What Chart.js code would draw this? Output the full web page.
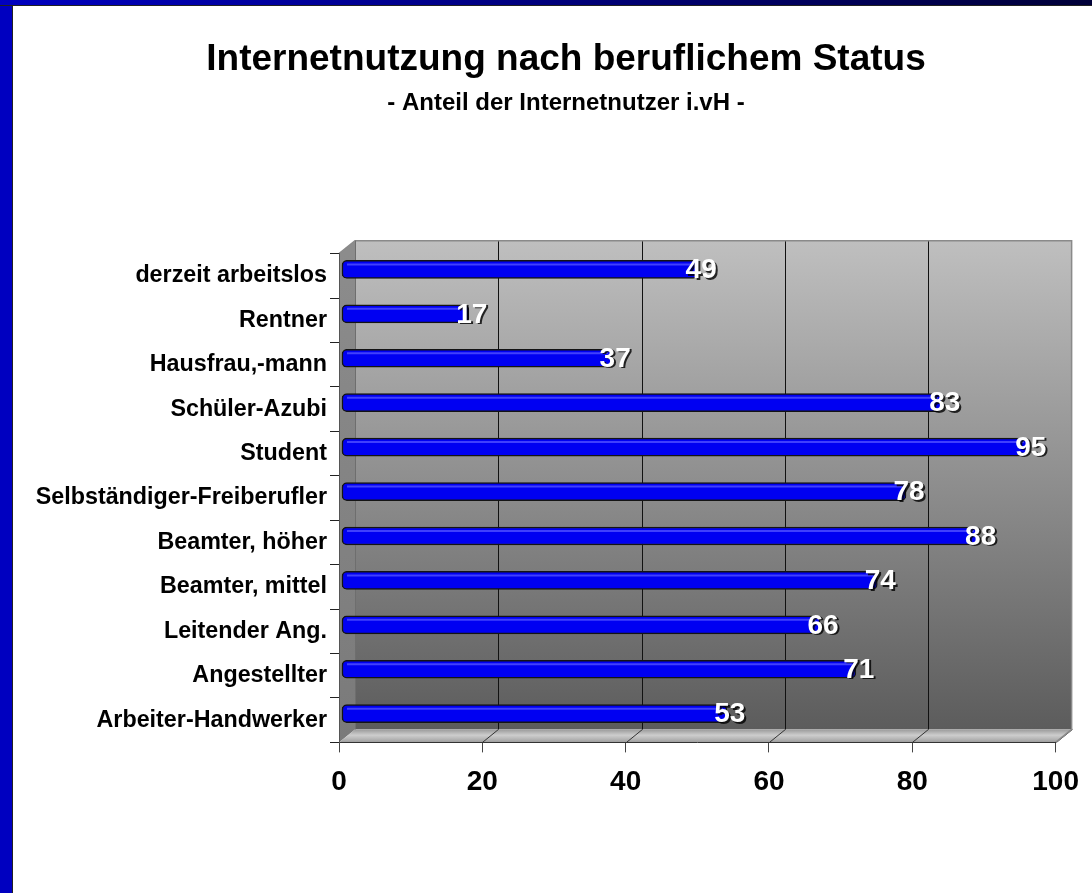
<!DOCTYPE html>
<html>
<head>
<meta charset="utf-8">
<script src="https://cdn.jsdelivr.net/npm/chart.js@4.4.1/dist/chart.umd.min.js"></script>
<style>
    html, body { margin: 0; padding: 0; background: #fff; }
    #wrap { position: relative; width: 1092px; height: 893px; overflow: hidden; }
    #frameLeft { position: absolute; left: 0; top: 0; width: 12px; height: 893px; background: #0000c0; border-right: 1px solid #222; }
    #frameTop { position: absolute; left: 0; top: 0; width: 1092px; height: 5px; background: linear-gradient(to right, #0000c0, #000038); border-bottom: 1px solid #222; }
    canvas { position: absolute; left: 0; top: 0; }
</style>
</head>
<body>
<div id="wrap">
    <canvas id="statusChart" width="1092" height="893"></canvas>
    <div id="frameLeft"></div>
    <div id="frameTop"></div>
</div>

<script>

/* =========================================
   DATA
========================================= */

const categories = [
    "derzeit arbeitslos",
    "Rentner",
    "Hausfrau,-mann",
    "Schüler-Azubi",
    "Student",
    "Selbständiger-Freiberufler",
    "Beamter, höher",
    "Beamter, mittel",
    "Leitender Ang.",
    "Angestellter",
    "Arbeiter-Handwerker"
];

const shares = [49, 17, 37, 83, 95, 78, 88, 74, 66, 71, 53];

const xTicks = [0, 20, 40, 60, 80, 100];

const FONT = "'Liberation Sans', Arial, sans-serif";

// 3D depth of the box (px)
const DX = 16;
const DY = 13;

// horizontal shift of title / subtitle centre
const TITLE_SHIFT = 26.5;


/* =========================================
   3D WALLS (drawn behind everything)
========================================= */

const wallsPlugin = {

    id: "walls",

    afterLayout(chart) {
        // move title + subtitle boxes so they centre over the plot like the original
        chart.boxes.forEach(box => {
            if (box.options && typeof box.options.text === "string") {
                box.left += TITLE_SHIFT;
                box.right += TITLE_SHIFT;
            }
        });
    },

    beforeDraw(chart) {

        const ctx = chart.ctx;
        const { left: L, right: R, top: T, bottom: B } = chart.chartArea;
        const xScale = chart.scales.x;

        ctx.save();

        // back wall
        let g = ctx.createLinearGradient(0, T - DY, 0, B - DY);
        g.addColorStop(0, "#bfbfbf");
        g.addColorStop(1, "#5c5c5c");
        ctx.fillStyle = g;
        ctx.fillRect(L + DX, T - DY, R - L, B - T);

        // left wall
        g = ctx.createLinearGradient(0, T, 0, B);
        g.addColorStop(0, "#8c8c8c");
        g.addColorStop(1, "#7a7a7a");
        ctx.fillStyle = g;
        ctx.beginPath();
        ctx.moveTo(L, T);
        ctx.lineTo(L + DX, T - DY);
        ctx.lineTo(L + DX, B - DY);
        ctx.lineTo(L, B);
        ctx.closePath();
        ctx.fill();

        // floor
        g = ctx.createLinearGradient(0, B - DY, 0, B);
        g.addColorStop(0, "#9a9a9a");
        g.addColorStop(0.45, "#cdcdcd");
        g.addColorStop(0.75, "#b4b4b4");
        g.addColorStop(1, "#9c9c9c");
        ctx.fillStyle = g;
        ctx.beginPath();
        ctx.moveTo(L, B);
        ctx.lineTo(L + DX, B - DY);
        ctx.lineTo(R + DX, B - DY);
        ctx.lineTo(R, B);
        ctx.closePath();
        ctx.fill();

        // grid lines on back wall + floor
        ctx.lineWidth = 1;
        xScale.ticks.forEach(t => {
            const px = Math.round(xScale.getPixelForValue(t.value)) + 0.5;
            if (t.value > xScale.min && t.value < xScale.max) {
                ctx.strokeStyle = "#111";
                ctx.beginPath();
                ctx.moveTo(px + DX, T - DY);
                ctx.lineTo(px + DX, B - DY);
                ctx.stroke();
            }
            if (t.value > xScale.min) {
                ctx.strokeStyle = "#333";
                ctx.beginPath();
                ctx.moveTo(px, B);
                ctx.lineTo(px + DX, B - DY);
                ctx.stroke();
            }
        });

        // edges
        ctx.strokeStyle = "#8a8a8a";
        ctx.lineWidth = 1.5;
        ctx.beginPath();
        ctx.moveTo(L, T);
        ctx.lineTo(L + DX, T - DY);
        ctx.lineTo(R + DX, T - DY);
        ctx.lineTo(R + DX, B - DY);
        ctx.lineTo(R, B);
        ctx.stroke();

        ctx.strokeStyle = "#6e6e6e";
        ctx.lineWidth = 1;
        ctx.beginPath();
        ctx.moveTo(L + DX + 0.5, T - DY);
        ctx.lineTo(L + DX + 0.5, B - DY);
        ctx.stroke();

        ctx.restore();
    },

    beforeDatasetsDraw(chart) {
        chart.ctx.save();
        chart.ctx.translate(DX / 2, -DY / 2);
    },

    afterDatasetsDraw(chart) {

        const ctx = chart.ctx;
        const meta = chart.getDatasetMeta(0);

        // highlight stripe on the bars (still translated)
        meta.data.forEach(el => {
            const p = el.getProps(["x", "y", "base", "height"], true);
            ctx.strokeStyle = "rgba(80,80,255,0.8)";
            ctx.lineWidth = 2;
            ctx.beginPath();
            ctx.moveTo(p.base + 5, p.y - p.height / 2 + 4);
            ctx.lineTo(p.x - 4, p.y - p.height / 2 + 4);
            ctx.stroke();
        });

        ctx.restore();

        // value labels
        ctx.save();
        ctx.font = "bold 28px " + FONT;
        ctx.textAlign = "center";
        ctx.textBaseline = "middle";

        meta.data.forEach((el, i) => {
            const p = el.getProps(["x", "y"], true);
            const tx = p.x + DX / 2 + 3;
            const ty = p.y - DY / 2 + 1;
            const text = String(shares[i]);
            ctx.fillStyle = "rgba(0,0,0,0.8)";
            ctx.fillText(text, tx + 2, ty + 1.5);
            ctx.fillStyle = "#ffffff";
            ctx.fillText(text, tx, ty);
        });

        ctx.restore();
    }

};


/* =========================================
   CHART
========================================= */

const ctx = document.getElementById("statusChart").getContext("2d");

const statusChart = new Chart(ctx, {

    type: "bar",

    data: {
        labels: categories,
        datasets: [
            {
                label: "Anteil der Internetnutzer",
                data: shares,
                backgroundColor: "#0000f2",
                borderColor: "#141414",
                borderWidth: 1.5,
                borderSkipped: false,
                borderRadius: 5,
                barThickness: 18,
                base: -0.7,
                clip: false
            }
        ]
    },

    options: {

        indexAxis: "y",
        responsive: false,
        animation: false,

        layout: {
            padding: {
                left: 20,
                right: 33,
                top: 0,
                bottom: 81
            }
        },

        plugins: {

            legend: { display: false },
            tooltip: { enabled: false },

            title: {
                display: true,
                text: "Internetnutzung nach beruflichem Status",
                color: "#000",
                font: { family: FONT, size: 37, weight: "bold" },
                padding: { top: 37.5, bottom: 0 }
            },

            subtitle: {
                display: true,
                text: "- Anteil der Internetnutzer i.vH -",
                color: "#000",
                font: { family: FONT, size: 24, weight: "bold" },
                padding: { top: 7, bottom: 136 }
            }

        },

        scales: {

            x: {
                min: 0,
                max: 100,
                afterBuildTicks: scale => {
                    scale.ticks = xTicks.map(v => ({ value: v }));
                },
                grid: {
                    drawOnChartArea: false,
                    drawTicks: true,
                    tickLength: 10,
                    color: "#444"
                },
                border: { display: true, color: "#333", width: 1 },
                ticks: {
                    color: "#000",
                    padding: 13,
                    font: { family: FONT, size: 28, weight: "bold" }
                }
            },

            y: {
                afterFit: scale => {
                    scale.width = 319;
                },
                grid: {
                    drawOnChartArea: false,
                    drawTicks: true,
                    tickLength: 9,
                    color: "#222"
                },
                border: { display: true, color: "#555", width: 1 },
                ticks: {
                    color: "#000",
                    padding: 3,
                    autoSkip: false,
                    font: { family: FONT, size: 23.3, weight: "bold" }
                }
            }

        }

    },

    plugins: [wallsPlugin]

});

</script>
</body>
</html>
